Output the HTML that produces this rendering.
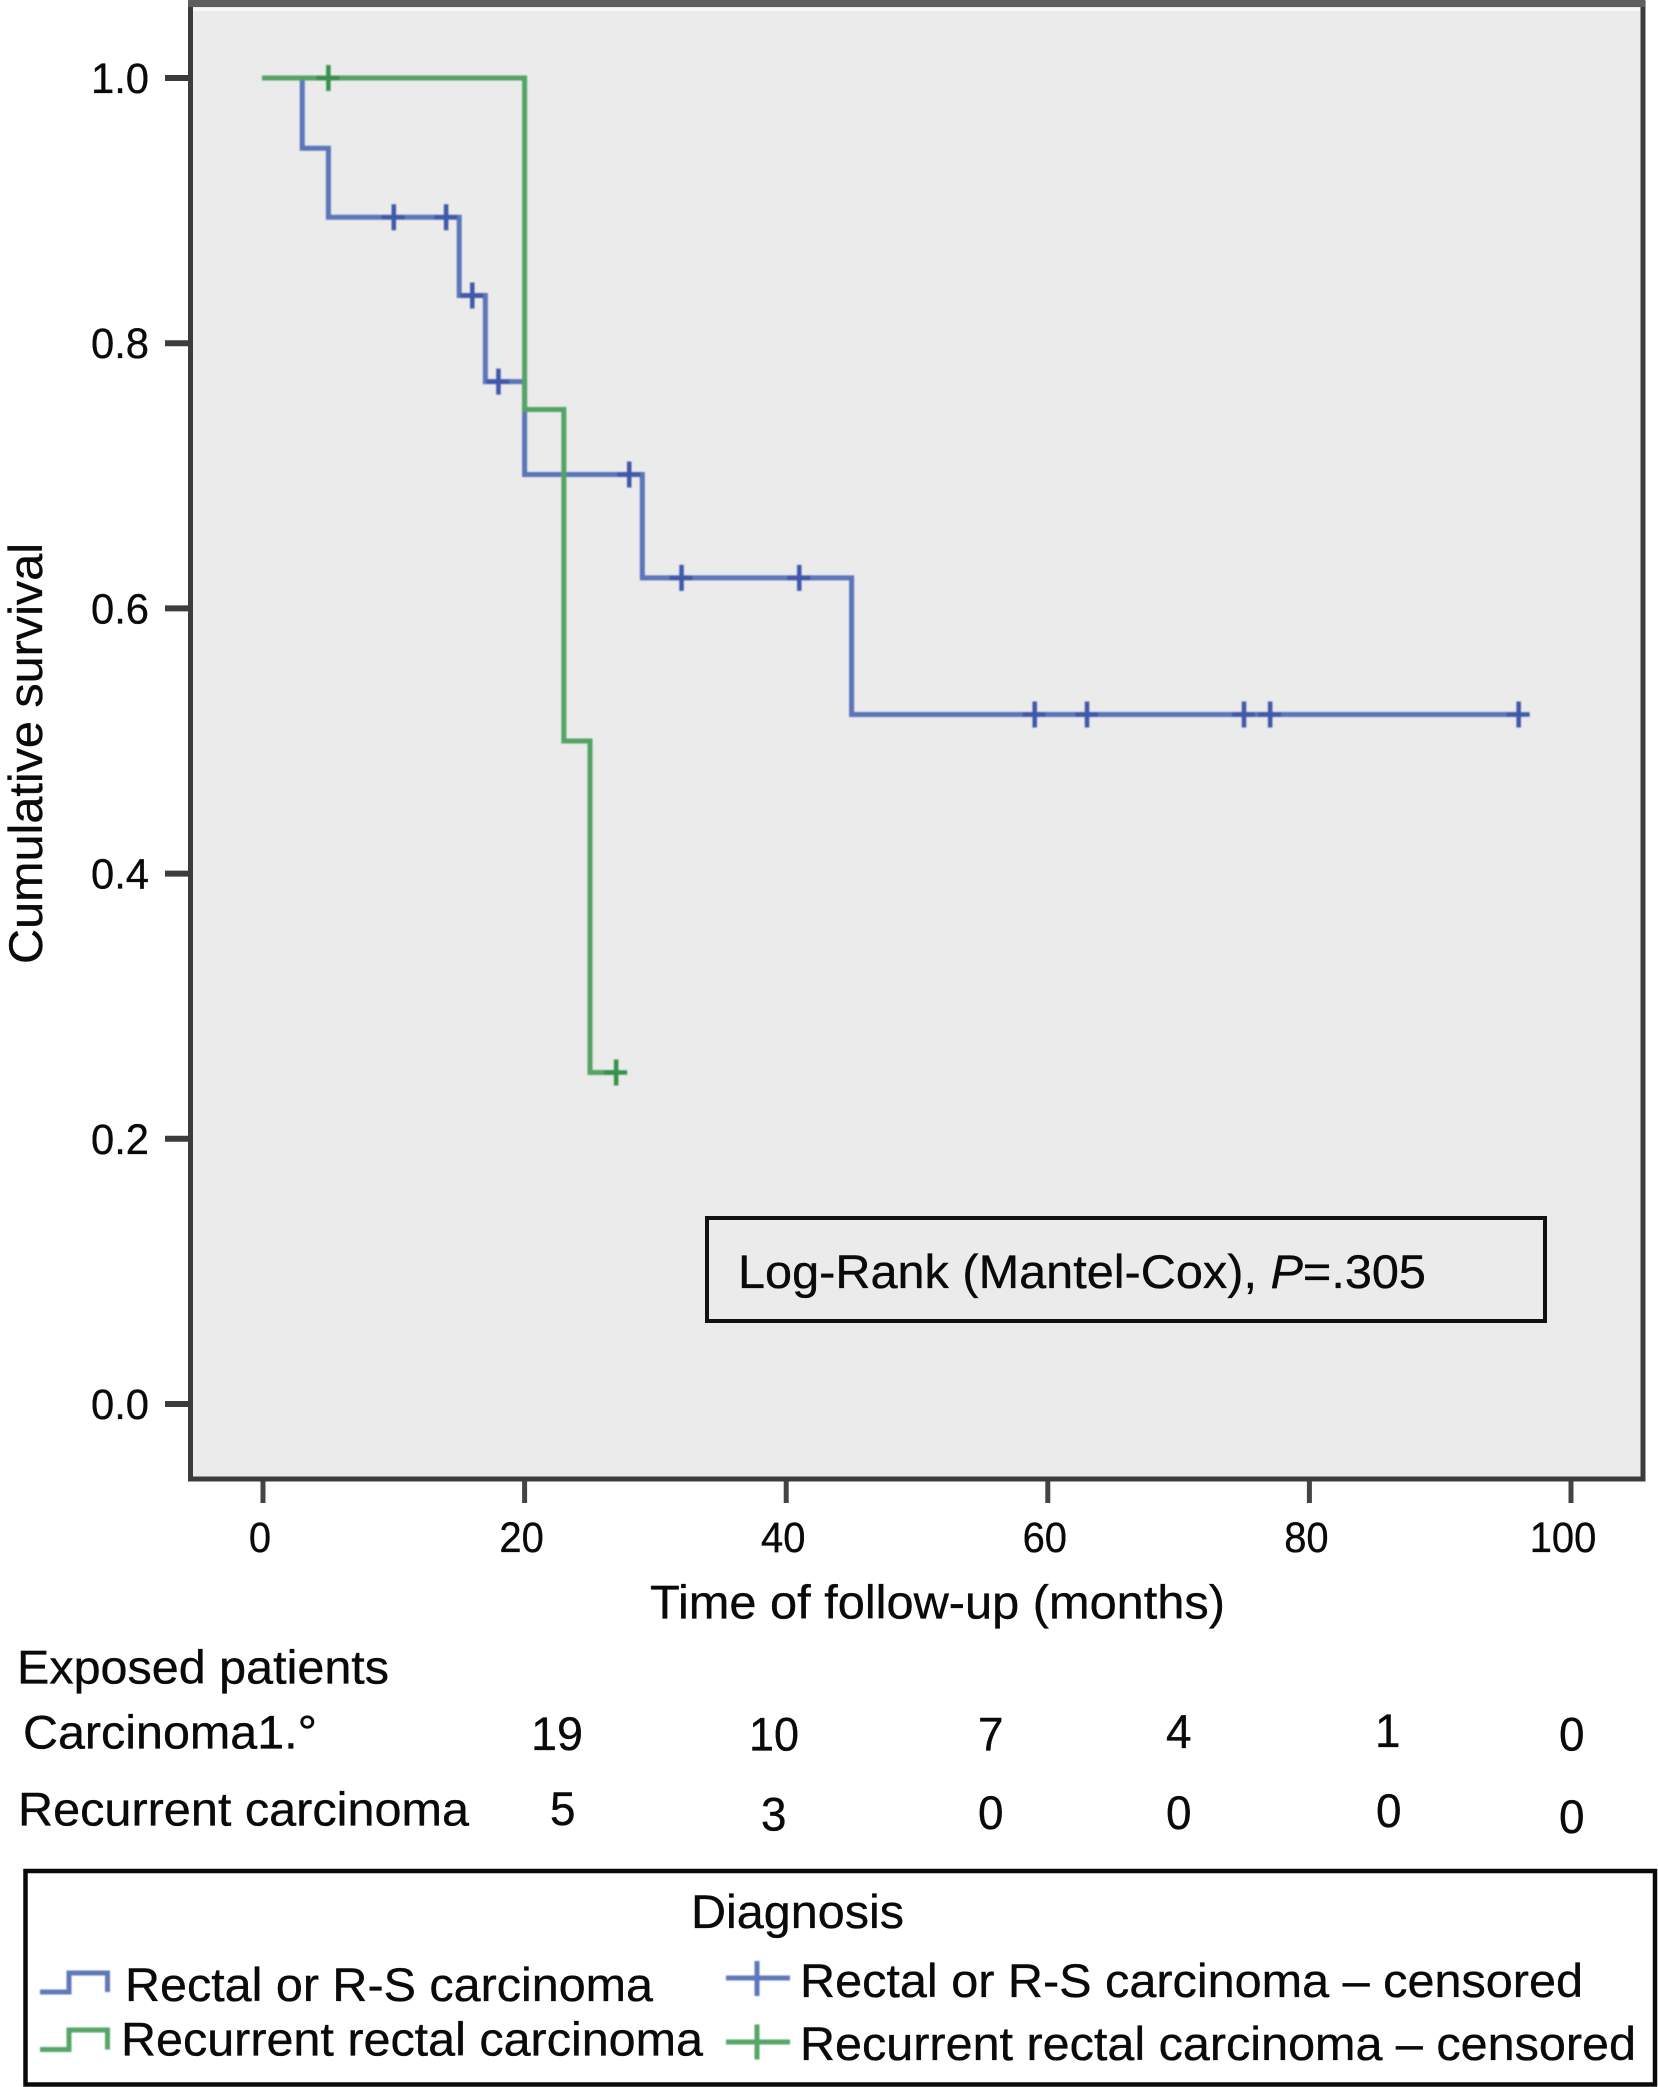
<!DOCTYPE html>
<html lang="en">
<head>
<meta charset="utf-8">
<title>Kaplan-Meier survival chart</title>
<style>
html,body{margin:0;padding:0;background:#fff;width:1658px;height:2087px;overflow:hidden}
svg{display:block}
text{font-family:"Liberation Sans",Arial,sans-serif;fill:#0a0a0a;stroke:#0a0a0a;stroke-width:.35px}
.tick{font-size:43px}
.lab{font-size:47px}
</style>
</head>
<body>
<svg id="chart" xmlns="http://www.w3.org/2000/svg" width="1658" height="2087" viewBox="0 0 1658 2087">
  <defs>
    <filter id="soft" x="-5%" y="-5%" width="110%" height="110%"><feGaussianBlur stdDeviation="0.9"/></filter>
  </defs>
  <rect x="190" y="4" width="1453" height="1475" fill="#ebebeb"/>
  <rect x="193" y="8" width="1447" height="3" fill="#f7f7f7"/>
  <g id="ticks"></g>
  <rect x="190.5" y="3" width="1452.5" height="1476" fill="none" stroke="#3c3c3c" stroke-width="5"/>
  <rect x="188" y="0" width="1457" height="7" fill="#5e5e5e"/>
  <g id="marks" filter="url(#soft)"></g>
  <g id="labels"></g>

  <text class="lab" transform="translate(42,964) rotate(-90)" textLength="421" lengthAdjust="spacingAndGlyphs">Cumulative survival</text>
  <text class="lab" x="650" y="1618.5" textLength="575" lengthAdjust="spacingAndGlyphs">Time of follow-up (months)</text>

  <g>
    <rect x="707" y="1218" width="838" height="103" fill="#ebebeb" stroke="#111" stroke-width="4"/>
    <text class="lab" x="738" y="1288" textLength="688" lengthAdjust="spacingAndGlyphs">Log-Rank (Mantel-Cox), <tspan font-style="italic">P</tspan>=.305</text>
  </g>

  <g>
    <text class="lab" x="17" y="1683.5" textLength="372" lengthAdjust="spacingAndGlyphs">Exposed patients</text>
    <text class="lab" x="23" y="1748.5" textLength="294" lengthAdjust="spacingAndGlyphs">Carcinoma1.°</text>
    <text class="lab" x="18" y="1825.5" textLength="451" lengthAdjust="spacingAndGlyphs">Recurrent carcinoma</text>
    <text class="lab" x="531" y="1750" textLength="52" lengthAdjust="spacingAndGlyphs">19</text>
    <text class="lab" x="749" y="1750.5" textLength="50" lengthAdjust="spacingAndGlyphs">10</text>
    <text class="lab" x="978" y="1750.5" textLength="25.5" lengthAdjust="spacingAndGlyphs">7</text>
    <text class="lab" x="1166" y="1748" textLength="25.5" lengthAdjust="spacingAndGlyphs">4</text>
    <text class="lab" x="1375" y="1747" textLength="25.5" lengthAdjust="spacingAndGlyphs">1</text>
    <text class="lab" x="1559" y="1750.5" textLength="25.5" lengthAdjust="spacingAndGlyphs">0</text>
    <text class="lab" x="550" y="1825" textLength="25.5" lengthAdjust="spacingAndGlyphs">5</text>
    <text class="lab" x="761" y="1830.5" textLength="25.5" lengthAdjust="spacingAndGlyphs">3</text>
    <text class="lab" x="978" y="1829" textLength="25.5" lengthAdjust="spacingAndGlyphs">0</text>
    <text class="lab" x="1166" y="1829" textLength="25.5" lengthAdjust="spacingAndGlyphs">0</text>
    <text class="lab" x="1376" y="1827" textLength="25.5" lengthAdjust="spacingAndGlyphs">0</text>
    <text class="lab" x="1559" y="1833" textLength="25.5" lengthAdjust="spacingAndGlyphs">0</text>
  </g>

  <g>
    <rect x="25.5" y="1871" width="1629.5" height="213.5" fill="#fff" stroke="#0a0a0a" stroke-width="4.5"/>
    <text class="lab" x="691" y="1928" textLength="213" lengthAdjust="spacingAndGlyphs">Diagnosis</text>
    <g filter="url(#soft)">
      <path d="M40 1992H69V1973H107.5V1992" fill="none" stroke="#5f78bb" stroke-width="5"/>
      <path d="M40 2049.5H69V2030H107.5V2049.5" fill="none" stroke="#55a566" stroke-width="5"/>
      <path d="M726 1978H790M757 1961V1996" fill="none" stroke="#5f78bb" stroke-width="5"/>
      <path d="M726 2042H790M757 2024.5V2059.5" fill="none" stroke="#55a566" stroke-width="5"/>
    </g>
    <text class="lab" x="125" y="2001" textLength="528" lengthAdjust="spacingAndGlyphs">Rectal or R-S carcinoma</text>
    <text class="lab" x="121" y="2055.5" textLength="582" lengthAdjust="spacingAndGlyphs">Recurrent rectal carcinoma</text>
    <text class="lab" x="800" y="1997" textLength="783" lengthAdjust="spacingAndGlyphs">Rectal or R-S carcinoma – censored</text>
    <text class="lab" x="800" y="2060" textLength="836" lengthAdjust="spacingAndGlyphs">Recurrent rectal carcinoma – censored</text>
  </g>
</svg>
<script>
const xTickValues = [0, 20, 40, 60, 80, 100];
const yTickValues = [0, 0.2, 0.4, 0.6, 0.8, 1.0];
const blueTimes = [0, 3, 5, 15, 17, 20, 29, 45, 96];
const blueSurvival = [1.0, 0.947, 0.895, 0.836, 0.771, 0.701, 0.623, 0.52, 0.52];
const blueCensored = [10, 14, 16, 18, 28, 32, 41, 59, 63, 75, 77, 96];
const greenTimes = [0, 20, 23, 25, 27];
const greenSurvival = [1.0, 0.75, 0.5, 0.25, 0.25];
const greenCensored = [5, 27];

const NS = 'http://www.w3.org/2000/svg';
function xScale(t) { return 263 + 13.08 * t; }
function yScale(v) { return 1404 - 1326 * v; }
function make(tag, attrs, parent) {
  const e = document.createElementNS(NS, tag);
  for (const k in attrs) e.setAttribute(k, attrs[k]);
  parent.appendChild(e);
  return e;
}
function stepValue(times, values, t) {
  let v = values[0];
  for (let i = 0; i < times.length; i++) if (times[i] <= t) v = values[i];
  return v;
}
function stepPath(times, values) {
  let d = 'M' + (xScale(times[0]) - 1) + ' ' + yScale(values[0]);
  for (let i = 1; i < times.length; i++) {
    d += 'H' + xScale(times[i]) + 'V' + yScale(values[i]);
  }
  return d;
}

const ticksG = document.getElementById('ticks');
const labelsG = document.getElementById('labels');
const marksG = document.getElementById('marks');

xTickValues.forEach(function (t) {
  const tick = make('line', { x1: xScale(t), x2: xScale(t), y1: 1479, y2: 1503, stroke: '#444', 'stroke-width': 5 }, ticksG);
  
  
  const txt = String(t);
  const lab = make('text', { x: xScale(t) - (t >= 100 ? 8 : 3), y: 1552, 'text-anchor': 'middle', class: 'tick', textLength: txt.length * 22.2, lengthAdjust: 'spacingAndGlyphs' }, labelsG);
  lab.textContent = txt;
  
  
});

yTickValues.forEach(function (v) {
  const tick = make('line', { x1: 165, x2: 190, y1: yScale(v), y2: yScale(v), stroke: '#3c3c3c', 'stroke-width': 6 }, ticksG);
  
  
  const lab = make('text', { x: 91, y: yScale(v) + 15, class: 'tick', textLength: 58, lengthAdjust: 'spacingAndGlyphs' }, labelsG);
  lab.textContent = v.toFixed(1);
  
  
});

function drawSeries(name, times, values, censored, lineColor, crossColor) {
  const line = make('path', { d: stepPath(times, values), fill: 'none', stroke: lineColor, 'stroke-width': 5 }, marksG);
  
  
  censored.forEach(function (t) {
    const cx = xScale(t);
    const cy = yScale(stepValue(times, values, t));
    const cross = make('path', {
      d: 'M' + (cx - 12) + ' ' + cy + 'H' + (cx + 11) + 'M' + cx + ' ' + (cy - 13) + 'V' + (cy + 13),
      fill: 'none', stroke: crossColor, 'stroke-width': 4.5
    }, marksG);
    
    
  });
}

drawSeries('rectal', blueTimes, blueSurvival, blueCensored, '#5b74b9', '#3f58aa');
drawSeries('recurrent', greenTimes, greenSurvival, greenCensored, '#52a363', '#38914b');
</script>
</body>
</html>
